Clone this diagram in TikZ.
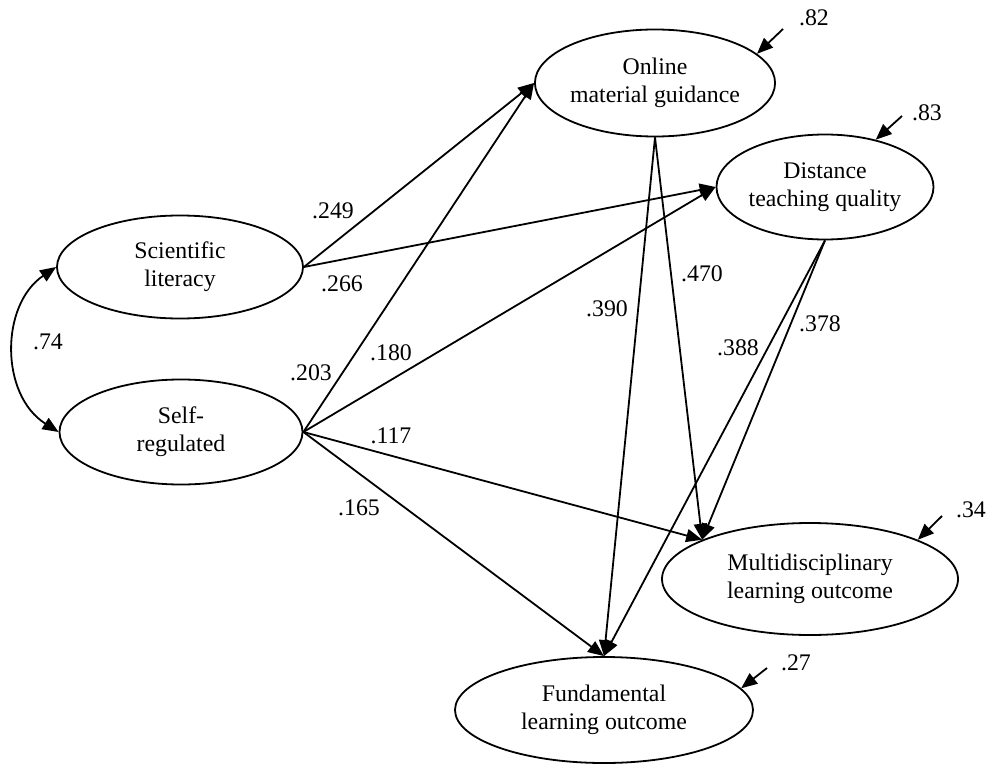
\documentclass[tikz,border=0pt]{standalone}
\usepackage{fontspec}
\setmainfont{Liberation Serif}
\usetikzlibrary{shapes.geometric,arrows.meta}
\begin{document}
\begin{tikzpicture}[x=1pt,y=-1pt,
  latent/.style={draw, ellipse, line width=1.8pt, inner sep=0pt, align=center,
    font=\fontsize{23.8}{28}\selectfont},
  coef/.style={inner sep=0pt, font=\fontsize{23.8}{28}\selectfont},
  effect/.style={line width=1.8pt, -{Triangle[length=16pt,width=13pt]}},
]
\useasboundingbox (0,0) rectangle (987,765);
% latent variables
\node[latent, minimum width=246pt, minimum height=103pt] (sl) at (180,267) {Scientific\\literacy};
\node[latent, minimum width=243pt, minimum height=105pt] (sr) at (181,432) {Self-\\regulated};
\node[latent, minimum width=240pt, minimum height=107pt] (onl) at (655,83) {Online\\material guidance};
\node[latent, minimum width=217pt, minimum height=105pt] (dist) at (825,187) {Distance\\teaching quality};
\node[latent, minimum width=296pt, minimum height=112pt] (multi) at (810,579) {Multidisciplinary\\learning outcome};
\node[latent, minimum width=298pt, minimum height=106pt] (fund) at (604,710) {Fundamental\\learning outcome};
% paths
\draw[effect] (sl.east) -- (onl.west);
\draw[effect] (sl.east) -- (dist.west);
\draw[effect] (sr.east) -- (onl.west);
\draw[effect] (sr.east) -- (dist.west);
\draw[effect] (sr.east) -- (multi.160);
\draw[effect] (sr.east) -- (fund.north);
\draw[effect] (onl.south) -- (fund.north);
\draw[effect] (onl.south) -- (multi.160);
\draw[effect] (dist.south) -- (fund.north);
\draw[effect] (dist.south) -- (multi.160);
% correlation
\draw[line width=1.8pt, {Triangle[length=16pt,width=13pt]}-{Triangle[length=16pt,width=13pt]}]
  (sl.west) .. controls (0,305) and (0,395) .. (sr.west);
\node[coef] (c74) at (48,342) {.74};
% coefficients
\node[coef] (c249) at (333,211) {.249};
\node[coef] (c266) at (342,284) {.266};
\node[coef] (c203) at (311,373) {.203};
\node[coef] (c180) at (391,353) {.180};
\node[coef] (c117) at (391,436) {.117};
\node[coef] (c165) at (359,508) {.165};
\node[coef] (c390) at (607,309) {.390};
\node[coef] (c470) at (702,274) {.470};
\node[coef] (c388) at (738,348) {.388};
\node[coef] (c378) at (820,324) {.378};
% residuals
\node[coef] (r82) at (814,18) {.82};
\node[coef] (r83) at (927,113) {.83};
\node[coef] (r34) at (971,510) {.34};
\node[coef] (r27) at (796,663) {.27};
\coordinate (e82) at (783,29);
\coordinate (e83) at (902,116);
\coordinate (e34) at (942,516);
\coordinate (e27) at (767,668);
\draw[effect] (e82) -- (onl.16);
\draw[effect] (e83) -- (dist.43);
\draw[effect] (e34) -- (multi.20);
\draw[effect] (e27) -- (fund.9);
\end{tikzpicture}
\end{document}
